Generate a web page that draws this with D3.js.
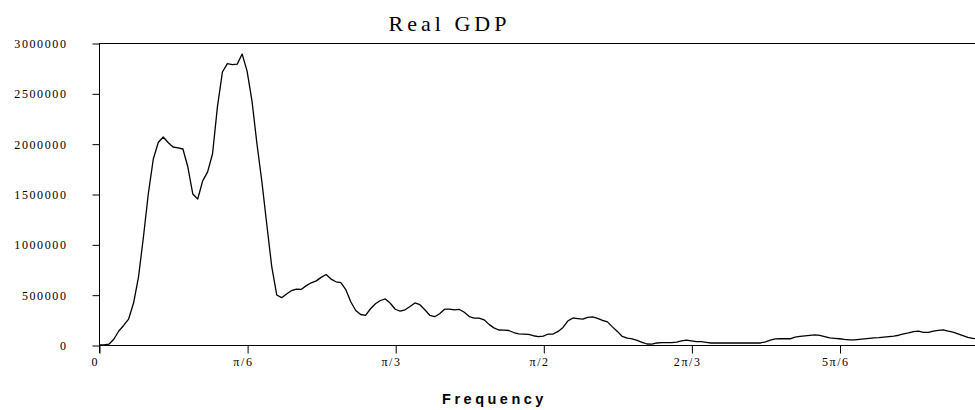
<!DOCTYPE html>
<html>
<head>
<meta charset="utf-8">
<script src="https://cdn.jsdelivr.net/npm/d3@7/dist/d3.min.js"></script>
<style>
  html, body { margin: 0; padding: 0; background: #fff; }
  svg { display: block; }
</style>
</head>
<body>
<svg id="chart" width="975" height="410"></svg>
<script>
// Spectrum values, one per degree of frequency (0 .. 178 degrees)
const frequencyStepDegrees = 1;
const spectrum = [
  0, 2000, 8000, 57000, 139000, 194000, 258000, 417000, 675000, 1073000,
  1507000, 1848000, 2012000, 2066000, 2012000, 1967000, 1959000, 1947000, 1768000, 1500000,
  1450000, 1630000, 1720000, 1900000, 2370000, 2712000, 2795000, 2786000, 2790000, 2890000,
  2720000, 2420000, 1997000, 1620000, 1192000, 775000, 497000, 470000, 507000, 541000,
  555000, 553000, 590000, 618000, 637000, 672000, 700000, 655000, 628000, 620000,
  550000, 430000, 343000, 303000, 295000, 360000, 410000, 442000, 458000, 415000,
  355000, 336000, 350000, 383000, 418000, 400000, 350000, 295000, 281000, 310000,
  356000, 356000, 348000, 353000, 325000, 283000, 266000, 267000, 250000, 205000,
  170000, 149000, 148000, 144000, 124000, 111000, 108000, 105000, 92000, 83000,
  88000, 109000, 109000, 135000, 175000, 240000, 268000, 263000, 257000, 275000,
  280000, 265000, 245000, 230000, 180000, 135000, 85000, 68000, 60000, 45000,
  27000, 10000, 8000, 20000, 23000, 23000, 23000, 28000, 40000, 48000,
  42000, 33000, 33000, 27000, 20000, 20000, 20000, 20000, 20000, 20000,
  20000, 20000, 20000, 20000, 20000, 32000, 48000, 60000, 62000, 62000,
  62000, 78000, 85000, 90000, 96000, 100000, 95000, 82000, 70000, 66000,
  62000, 55000, 50000, 50000, 55000, 60000, 66000, 70000, 73000, 78000,
  83000, 89000, 97000, 110000, 120000, 132000, 138000, 125000, 125000, 137000,
  145000, 150000, 138000, 128000, 110000, 93000, 76000, 65000, 60000
];
const yTickValues = [0, 500000, 1000000, 1500000, 2000000, 2500000, 3000000];
const xTickValues = [0, Math.PI / 6, Math.PI / 3, Math.PI / 2, 2 * Math.PI / 3, 5 * Math.PI / 6];
const xTickLabels = ["0", "\u03C0/6", "\u03C0/3", "\u03C0/2", "2\u03C0/3", "5\u03C0/6"];
const titleText = "Real GDP";
const xAxisTitle = "Frequency";

(function () {
const data = spectrum.map((v, i) => ({ f: i * frequencyStepDegrees * Math.PI / 180, v }));

const svg = d3.select("#chart");
const W = 975;
const mLeft = 99, mTop = 43, mBottom = 345;
const x = d3.scaleLinear().domain([0, Math.PI]).range([mLeft, 987.6]);
const y = d3.scaleLinear().domain([0, 3000000]).range([mBottom, mTop]);

const serif = "'Liberation Serif', 'Times New Roman', serif";

// Title
svg.append("text")
  .attr("x", 449.5).attr("y", 31)
  .attr("text-anchor", "middle")
  .attr("font-family", serif)
  .attr("font-size", 22)
  .attr("letter-spacing", "4px")
  .attr("fill", "#000")
  .text(titleText);

// Frame lines
svg.append("line").attr("x1", mLeft).attr("x2", W).attr("y1", mTop + 0.5).attr("y2", mTop + 0.5)
  .attr("stroke", "#000").attr("stroke-width", 1);
svg.append("line").attr("x1", mLeft + 0.5).attr("x2", mLeft + 0.5).attr("y1", mTop).attr("y2", mBottom + 8)
  .attr("stroke", "#000").attr("stroke-width", 1);
svg.append("line").attr("x1", mLeft).attr("x2", W).attr("y1", mBottom + 0.5).attr("y2", mBottom + 0.5)
  .attr("stroke", "#000").attr("stroke-width", 1);

// Y axis
const yAxis = d3.axisLeft(y).tickValues(yTickValues).tickFormat(d3.format("d")).tickSize(7).tickPadding(25);
const gy = svg.append("g").attr("transform", `translate(${mLeft + 0.5},0.5)`).call(yAxis);
gy.select(".domain").remove();
gy.selectAll("line").attr("stroke", "#000");
gy.selectAll("text")
  .attr("font-family", serif).attr("font-size", 12).attr("letter-spacing", "1.6px")
  .attr("fill", "#000").attr("dy", "0.33em");
gy.attr("font-size", null).attr("font-family", null);

// X axis
const xAxis = d3.axisBottom(x).tickValues(xTickValues).tickFormat((d, i) => xTickLabels[i]).tickSize(8);
const gx = svg.append("g").attr("transform", `translate(0.5,${mBottom + 0.5})`).call(xAxis);
gx.select(".domain").remove();
gx.selectAll("line").attr("stroke", "#000");
gx.selectAll("text")
  .attr("font-family", serif).attr("font-size", 12).attr("letter-spacing", "1.6px")
  .attr("fill", "#000").attr("y", 20).attr("dy", 0).attr("dx", -4.7);
gx.attr("font-size", null).attr("font-family", null);

// X axis title
svg.append("text")
  .attr("x", 494.5).attr("y", 404)
  .attr("text-anchor", "middle")
  .attr("font-family", "'Liberation Sans', Arial, sans-serif")
  .attr("font-weight", "bold")
  .attr("font-size", 14.5)
  .attr("letter-spacing", "3.5px")
  .attr("fill", "#000")
  .text(xAxisTitle);

// Line
svg.append("defs").append("clipPath").attr("id", "plot")
  .append("rect").attr("x", mLeft).attr("y", 0).attr("width", W - mLeft).attr("height", mBottom + 1);
svg.append("path")
  .datum(data)
  .attr("clip-path", "url(#plot)")
  .attr("fill", "none")
  .attr("stroke", "#000")
  .attr("stroke-width", 1.3)
  .attr("stroke-linejoin", "round")
  .attr("d", d3.line().x(d => x(d.f)).y(d => y(d.v)));
})();
</script>
</body>
</html>
